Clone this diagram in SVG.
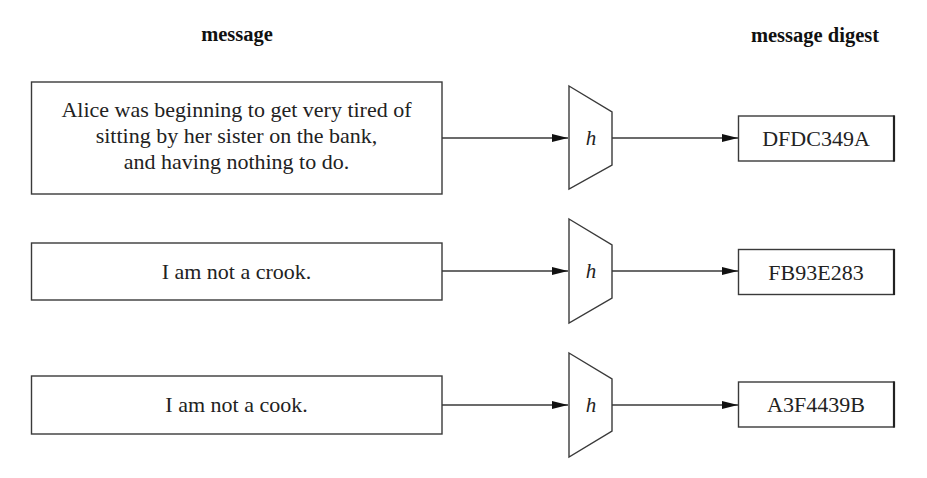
<svg xmlns="http://www.w3.org/2000/svg" width="927" height="478" viewBox="0 0 927 478">
<style>
.box{fill:#fff;stroke:#3a3a3a;stroke-width:1.4}
.hash{fill:#fff;stroke:#3a3a3a;stroke-width:1.4;stroke-linejoin:miter}
.t{font-family:"Liberation Serif","Times New Roman",serif;font-size:22px;fill:#222;text-anchor:middle}
.hd{font-family:"Liberation Serif","Times New Roman",serif;font-size:20.5px;font-weight:bold;fill:#111;text-anchor:middle}
.h{font-family:"Liberation Serif","Times New Roman",serif;font-size:21px;font-style:italic;fill:#222;text-anchor:middle}
.c{stroke:#3a3a3a;stroke-width:1.3;fill:none;marker-end:url(#arr)}
.edge{stroke:#222;stroke-width:2.2}
</style>
<defs>
<marker id="arr" markerWidth="16" markerHeight="8" refX="16" refY="4" orient="auto" markerUnits="userSpaceOnUse">
<path d="M0,0 L16,4 L0,8 Z" fill="#111"/>
</marker>
</defs>
<rect width="927" height="478" fill="#fff"/>
<g id="headers">
<text class="hd" x="237" y="41">message</text>
<text class="hd" x="815" y="42">message digest</text>
</g>
<g id="connectors">
<line class="c" x1="442" y1="138" x2="568" y2="138"/>
<line class="c" x1="612" y1="138" x2="738" y2="138"/>
<line class="c" x1="442" y1="271" x2="568" y2="271"/>
<line class="c" x1="612" y1="271" x2="738" y2="271"/>
<line class="c" x1="442" y1="405" x2="568" y2="405"/>
<line class="c" x1="612" y1="405" x2="738" y2="405"/>
</g>
<g id="msg1">
<rect class="box" x="31.5" y="82" width="410.5" height="112"/>
<text class="t" x="236.5" y="117">Alice was beginning to get very tired of</text>
<text class="t" x="236.5" y="143">sitting by her sister on the bank,</text>
<text class="t" x="236.5" y="169">and having nothing to do.</text>
</g>
<g id="msg2">
<rect class="box" x="31.5" y="243" width="410.5" height="57"/>
<text class="t" x="236.5" y="279">I am not a crook.</text>
</g>
<g id="msg3">
<rect class="box" x="31.5" y="376" width="410.5" height="58"/>
<text class="t" x="236.5" y="412">I am not a cook.</text>
</g>
<g id="hash1">
<polygon class="hash" points="569,86 612,112 612,165 569,189"/>
<text class="h" x="591" y="145">h</text>
</g>
<g id="hash2">
<polygon class="hash" points="569,219 612,245 612,298 569,323"/>
<text class="h" x="591" y="278">h</text>
</g>
<g id="hash3">
<polygon class="hash" points="569,353 612,379 612,431 569,457"/>
<text class="h" x="591" y="412">h</text>
</g>
<g id="digest1">
<rect class="box" x="738.5" y="116" width="155.5" height="45"/>
<line class="edge" x1="894" y1="115.5" x2="894" y2="161.5"/>
<text class="t" x="816" y="146">DFDC349A</text>
</g>
<g id="digest2">
<rect class="box" x="738.5" y="249.5" width="155.5" height="45"/>
<line class="edge" x1="894" y1="249" x2="894" y2="295"/>
<text class="t" x="816" y="279.5">FB93E283</text>
</g>
<g id="digest3">
<rect class="box" x="738.5" y="382" width="155.5" height="45"/>
<line class="edge" x1="894" y1="381.5" x2="894" y2="427.5"/>
<text class="t" x="816" y="412">A3F4439B</text>
</g>
</svg>
